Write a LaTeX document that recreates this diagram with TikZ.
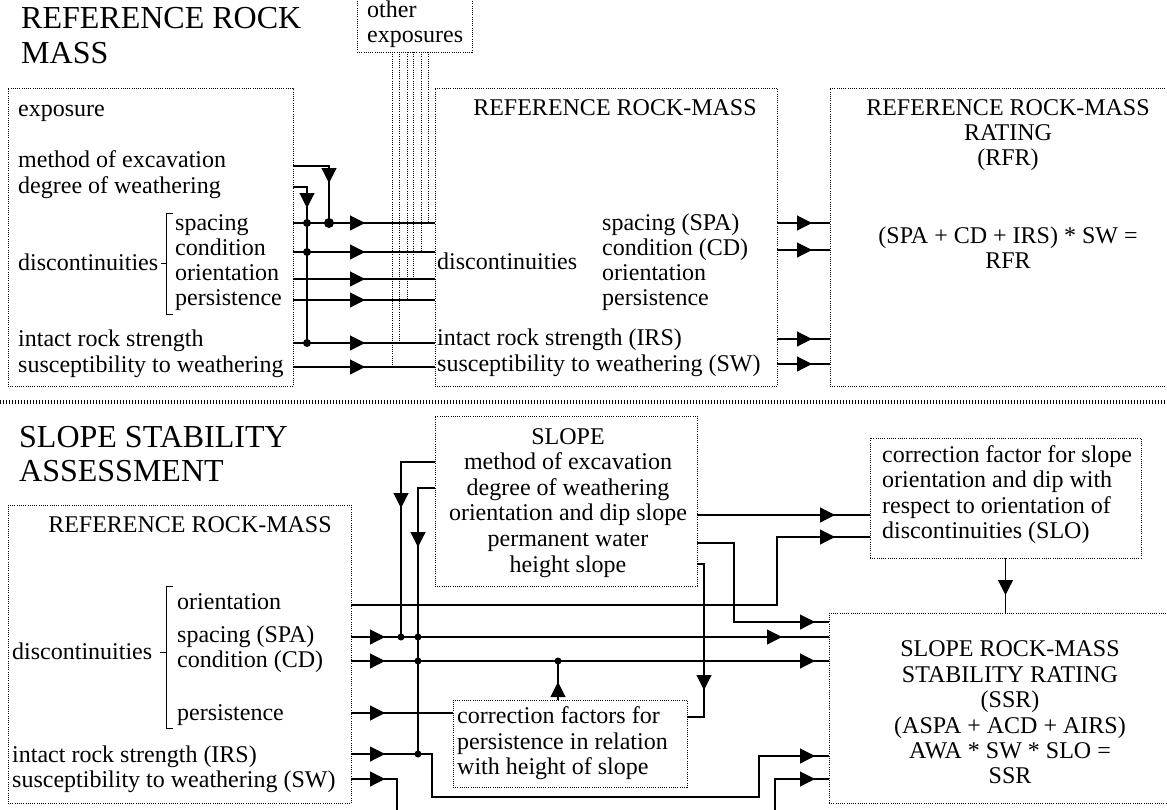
\documentclass[tikz,border=0pt]{standalone}
\usepackage{fontspec}
\setmainfont{Liberation Serif}
\usetikzlibrary{arrows.meta,decorations.markings}
\tikzset{
  dbox/.style={draw, dash pattern=on 0.9pt off 1.3pt, line width=0.7pt, inner sep=0pt, outer sep=0pt},
  dline/.style={dash pattern=on 0.9pt off 1.3pt, line width=0.7pt},
  sepline/.style={line width=3.5pt, dash pattern=on 1.2pt off 1.8pt},
  ln/.style={line width=1.1pt},
  brk/.style={line width=0.9pt},
  txt/.style={inner sep=0pt, anchor=base west, font=\fontsize{24}{25.5}\selectfont},
  ctxt/.style={inner sep=0pt, anchor=base, font=\fontsize{24}{25.5}\selectfont},
  ttl/.style={inner sep=0pt, anchor=base west, font=\fontsize{32}{35}\selectfont},
  arr/.style={postaction={decorate,decoration={markings,mark=at position #1 with {\arrow{Triangle[length=15pt,width=15pt]}}}}},
  jdot/.style={circle, fill, inner sep=0pt, minimum size=#1},
  jdot/.default=8pt
}
\begin{document}
\begin{tikzpicture}[x=1pt,y=-1pt]
\clip (0,0) rectangle (1167,809);
\fill[white] (0,0) rectangle (1167,809);

% ---------------- boxes
\node[dbox, minimum width=285, minimum height=298] (tl) at (150.5,237) {};
\node[dbox, minimum width=342, minimum height=298] (tm) at (606,237) {};
\node[dbox, minimum width=342, minimum height=298] (tr) at (1001,237) {};
\node[dbox, minimum width=115, minimum height=70] (oe) at (414.5,17) {};
\node[dbox, minimum width=343, minimum height=298] (bl) at (179.5,654) {};
\node[dbox, minimum width=262, minimum height=170] (sl) at (566,501) {};
\node[dbox, minimum width=234, minimum height=87] (cf) at (570,743.5) {};
\node[dbox, minimum width=271, minimum height=120] (slo) at (1005.5,498) {};
\node[dbox, minimum width=343, minimum height=190] (ssr) at (1000.5,708) {};

% separator
\coordinate (sepL) at (0,402);
\coordinate (sepR) at (1167,402);
\draw[sepline] (sepL) -- (sepR);

% ---------------- titles
\node[ttl] (title1) at (21,28) {REFERENCE ROCK};
\node[ttl] (title2) at (21,63) {MASS};
\node[ttl] (title3) at (19,447) {SLOPE STABILITY};
\node[ttl] (title4) at (19,481) {ASSESSMENT};

% ---------------- top texts
\node[txt] (oe1) at (367,17) {other};
\node[txt] (oe2) at (367,42) {exposures};

\node[txt] (texp) at (18,116) {exposure};
\node[txt] (tme) at (18,167) {method of excavation};
\node[txt] (tdw) at (18,193) {degree of weathering};
\node[txt] (tdis) at (18,270) {discontinuities};
\node[txt] (tsp) at (175,230) {spacing};
\node[txt] (tcd) at (175,255) {condition};
\node[txt] (tor) at (175,280) {orientation};
\node[txt] (tpe) at (175,305) {persistence};
\node[txt] (tirs) at (18,346) {intact rock strength};
\node[txt] (tsw) at (18,372) {susceptibility to weathering};
\draw[brk] (173,213) -- (166,213) -- (166,314) -- (173,314);
\draw[brk] (161,263) -- (166,263);

\node[ctxt] (mh) at (615,115) {REFERENCE ROCK-MASS};
\node[txt] (mdis) at (437,269) {discontinuities};
\node[txt] (msp) at (602,230) {spacing (SPA)};
\node[txt] (mcd) at (602,255) {condition (CD)};
\node[txt] (mor) at (602,280) {orientation};
\node[txt] (mpe) at (602,305) {persistence};
\node[txt] (mirs) at (437,345) {intact rock strength (IRS)};
\node[txt] (msw) at (437,371) {susceptibility to weathering (SW)};

\node[ctxt] (rh1) at (1008,115) {REFERENCE ROCK-MASS};
\node[ctxt] (rh2) at (1008,140) {RATING};
\node[ctxt] (rh3) at (1008,165) {(RFR)};
\node[ctxt] (rf1) at (1008,243) {(SPA + CD + IRS) * SW =};
\node[ctxt] (rf2) at (1008,268) {RFR};

% ---------------- top connectors
\node[jdot] (d1) at (307,223) {};
\node[jdot=10pt] (d2) at (329,223) {};
\node[jdot] (d3) at (307,252) {};
\node[jdot] (d4) at (307,343) {};
\coordinate (a1) at (329,166);
\coordinate (a2) at (307,187);
\coordinate (yor) at (0,279);
\coordinate (yps) at (0,300);
\coordinate (ysw) at (0,367);
\draw[ln,arr=53pt] (tl.east |- a1) -- (a1) -- (d2.center);
\draw[ln,arr=35pt] (tl.east |- a2) -- (a2) -- (d1.center);
\draw[ln] (d1.center) -- (d4.center);
\draw[ln,arr=72pt] (tl.east |- d1) -- (tm.west |- d1);
\draw[ln,arr=72pt] (tl.east |- d3) -- (tm.west |- d3);
\draw[ln,arr=72pt] (tl.east |- yor) -- (tm.west |- yor);
\draw[ln,arr=72pt] (tl.east |- yps) -- (tm.west |- yps);
\draw[ln,arr=72pt] (tl.east |- d4) -- (tm.west |- d4);
\draw[ln,arr=72pt] (tl.east |- ysw) -- (tm.west |- ysw);

\foreach \x/\y in {392/367,399/343,407/300,413/279,421/252,428/223}
  \draw[dline] (oe.south -| \x,0) -- (\x,\y);

\foreach \y in {223,250,339,364}
  \draw[ln,arr=35pt] (tm.east |- 0,\y) -- (tr.west |- 0,\y);

% ---------------- bottom texts
\node[ctxt] (bh) at (190,532) {REFERENCE ROCK-MASS};
\node[txt] (bdis) at (12,659) {discontinuities};
\node[txt] (bor) at (177,609) {orientation};
\node[txt] (bsp) at (177,642) {spacing (SPA)};
\node[txt] (bcd) at (177,667) {condition (CD)};
\node[txt] (bpe) at (177,720) {persistence};
\node[txt] (birs) at (12,762) {intact rock strength (IRS)};
\node[txt] (bsw) at (12,787) {susceptibility to weathering (SW)};
\draw[brk] (173,586) -- (166,586) -- (166,728) -- (173,728);
\draw[brk] (160,652) -- (166,652);

\node[ctxt] (s1) at (568,444) {SLOPE};
\node[ctxt] (s2) at (568,469) {method of excavation};
\node[ctxt] (s3) at (568,495) {degree of weathering};
\node[ctxt] (s4) at (568,520) {orientation and dip slope};
\node[ctxt] (s5) at (568,546) {permanent water};
\node[ctxt] (s6) at (568,572) {height slope};

\node[txt] (c1) at (457,723) {correction factors for};
\node[txt] (c2) at (457,749) {persistence in relation};
\node[txt] (c3) at (457,774) {with height of slope};

\node[txt] (o1) at (882,462) {correction factor for slope};
\node[txt] (o2) at (882,487) {orientation and dip with};
\node[txt] (o3) at (882,513) {respect to orientation of};
\node[txt] (o4) at (882,538) {discontinuities (SLO)};

\node[ctxt] (r1) at (1010,656) {SLOPE ROCK-MASS};
\node[ctxt] (r2) at (1010,682) {STABILITY RATING};
\node[ctxt] (r3) at (1010,707) {(SSR)};
\node[ctxt] (r4) at (1010,733) {(ASPA + ACD + AIRS)};
\node[ctxt] (r5) at (1010,758) {AWA * SW * SLO =};
\node[ctxt] (r6) at (1010,783) {SSR};

% ---------------- bottom connectors
\node[jdot=7pt] (e1) at (401,637) {};
\node[jdot=7pt] (e2) at (418,637) {};
\node[jdot=7pt] (e3) at (418,661) {};
\node[jdot=7pt] (e4) at (418,754) {};
\node[jdot=7pt] (e5) at (558,661) {};
\coordinate (yme) at (0,462);
\coordinate (ydw) at (0,488);
\coordinate (yod) at (0,515);
\coordinate (ypw) at (0,543);
\coordinate (yhs) at (0,564);
\coordinate (ybor) at (0,605);
\coordinate (ybpe) at (0,713);
\coordinate (ybsw) at (0,779);
\coordinate (or1) at (777,605);
\coordinate (or2) at (777,537);
\coordinate (hs1) at (704,564);
\coordinate (hs2) at (704,717);
\coordinate (pw1) at (734,543);
\coordinate (pw2) at (734,622);
\coordinate (ir1) at (432,754);
\coordinate (ir2) at (432,797);
\coordinate (ir3) at (759,797);
\coordinate (ir4) at (759,756);
\coordinate (sw1) at (397,779);
\coordinate (sw2) at (397,815);
\coordinate (sw3) at (775,815);
\coordinate (sw4) at (775,779);

\draw[ln,arr=80pt] (sl.west |- yme) -| (e1.center);
\draw[ln,arr=76pt] (sl.west |- ydw) -| (e2.center);
\draw[ln] (e2.center) -- (e4.center);
\draw[ln,arr=552pt] (bl.east |- ybor) -- (or1) -- (or2) -- (slo.west |- or2);
\draw[ln,arr=138pt] (sl.east |- yod) -- (slo.west |- yod);
\draw[ln,arr=34pt,arr=431pt] (bl.east |- e1) -- (ssr.west |- e1);
\draw[ln,arr=34pt,arr=464pt] (bl.east |- e3) -- (ssr.west |- e3);
\draw[ln,arr=18pt] (cf.north -| e5) -- (e5.center);
\draw[ln,arr=34pt] (bl.east |- ybpe) -- (cf.west |- ybpe);
\draw[ln,arr=133pt] (sl.east |- yhs) -- (hs1) -- (hs2) -- (cf.east |- hs2);
\draw[ln,arr=197pt] (sl.east |- ypw) -- (pw1) -- (pw2) -- (ssr.west |- pw2);
\draw[ln,arr=34pt,arr=548pt] (bl.east |- e4) -- (e4.center) -- (ir1) -- (ir2) -- (ir3) -- (ir4) -- (ssr.west |- ir4);
\draw[ln,arr=34pt] (bl.east |- ybsw) -- (sw1) -- (sw2);
\draw[ln,arr=76pt] (sw3) -- (sw4) -- (ssr.west |- sw4);
\draw[ln,arr=37pt] (slo.south) -- (ssr.north -| slo.south);
\end{tikzpicture}
\end{document}
